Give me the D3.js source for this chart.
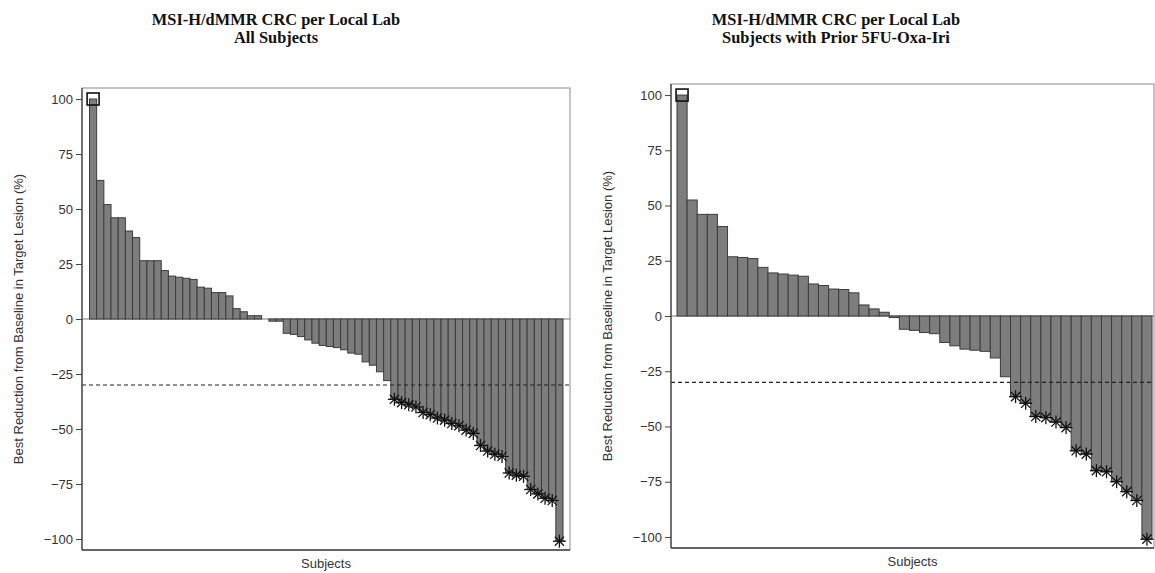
<!DOCTYPE html>
<html>
<head>
<meta charset="utf-8">
<script src="https://cdn.jsdelivr.net/npm/d3@7"></script>
<style>
  html, body { margin: 0; padding: 0; background: #fff; }
  svg { display: block; }
</style>
</head>
<body>
<svg id="chart" width="1155" height="573"></svg>
<script>
// ---------------- data ----------------
const yTicks = [100, 75, 50, 25, 0, -25, -50, -75, -100];
const threshold = -30;

const leftTitle = ["MSI-H/dMMR CRC per Local Lab", "All Subjects"];
const leftValues = [
  100, 63, 52, 46, 46, 40, 37, 26.5, 26.5, 26.5,
  22, 19.5, 19, 18.5, 18, 14.5, 14, 12, 12, 10.5,
  4.7, 3.3, 1.5, 1.5, 0, -1, -1, -6.5, -7, -8,
  -9.5, -11, -12, -12.5, -13, -14, -15.5, -16, -19.5, -21,
  -24, -28, -36.5, -38, -39, -40, -42.5, -43.5, -45, -46,
  -47.5, -48.5, -50.5, -52, -57.5, -60, -61.5, -62.5, -70, -71,
  -71.5, -77.5, -79.5, -81.5, -82.5, -101
];
const leftSquares = [0];
const leftAsterisks = d3.range(42, 66);

const rightTitle = ["MSI-H/dMMR CRC per Local Lab", "Subjects with Prior 5FU-Oxa-Iri"];
const rightValues = [
  100, 52.5, 46, 46, 40.5, 26.8, 26.5, 26, 22, 19.5,
  19, 18.5, 18, 14.5, 13.8, 12.2, 12, 10.5, 5, 3.2,
  1.7, -0.7, -6, -6.5, -7.5, -8, -12, -13.5, -15, -15.5,
  -16, -19, -27.5, -36.5, -39.5, -45.5, -46, -48, -50.5, -61,
  -62.5, -70, -70.5, -75, -79.5, -83.5, -101
];
const rightSquares = [0];
const rightAsterisks = d3.range(33, 47);

const yTitle = "Best Reduction from Baseline in Target Lesion (%)";
const xTitle = "Subjects";

// ---------------- drawing ----------------
const svg = d3.select("#chart");
const sans = "'Liberation Sans', Arial, sans-serif";

function panel(cfg) {
  const g = svg.append("g");
  const y = d3.scaleLinear().domain([-105, 105]).range([cfg.bottom, cfg.top]);
  const x = d3.scaleBand().domain(d3.range(cfg.values.length))
    .range([cfg.barStart, cfg.barEnd]).padding(0);

  // titles
  cfg.title.forEach((t, i) => {
    g.append("text")
      .attr("x", cfg.titleX).attr("y", 25 + i * 18)
      .attr("text-anchor", "middle")
      .attr("font-family", "'Liberation Serif', 'Times New Roman', serif")
      .attr("font-weight", "bold").attr("font-size", 16.4)
      .attr("fill", "#111")
      .text(t);
  });

  // frame
  g.append("rect")
    .attr("x", cfg.left).attr("y", cfg.top)
    .attr("width", cfg.right - cfg.left).attr("height", cfg.bottom - cfg.top)
    .attr("fill", "none").attr("stroke", "#8a8a8a").attr("stroke-width", 1);

  // zero line
  g.append("line")
    .attr("x1", cfg.left).attr("x2", cfg.right)
    .attr("y1", y(0)).attr("y2", y(0))
    .attr("stroke", "#777").attr("stroke-width", 1);

  // bars
  g.selectAll("rect.bar").data(cfg.values).enter().append("rect")
    .attr("class", "bar")
    .attr("x", (d, i) => x(i))
    .attr("width", x.bandwidth())
    .attr("y", d => y(Math.max(0, d)))
    .attr("height", d => Math.abs(y(d) - y(0)))
    .attr("fill", "#7d7d7d")
    .attr("stroke", "#3c3c3c")
    .attr("stroke-width", 1);

  // threshold dashed line
  g.append("line")
    .attr("x1", cfg.left).attr("x2", cfg.right)
    .attr("y1", y(threshold)).attr("y2", y(threshold))
    .attr("stroke", "#222").attr("stroke-width", 1.2)
    .attr("stroke-dasharray", "4,3");

  // axes (left and bottom drawn darker)
  const axis = d3.axisLeft(y).tickValues(yTicks).tickSize(6).tickPadding(3)
    .tickFormat(d3.format("d"));
  const ag = g.append("g").attr("transform", `translate(${cfg.left},0)`).call(axis);
  ag.select(".domain").attr("stroke", "#444").attr("stroke-width", 1.3)
    .attr("d", `M0,${cfg.top}V${cfg.bottom}`);
  ag.selectAll(".tick line").attr("stroke", "#444");
  ag.selectAll(".tick text")
    .attr("font-family", sans)
    .attr("font-size", 13).attr("fill", "#333");

  g.append("line")
    .attr("x1", cfg.left).attr("x2", cfg.right)
    .attr("y1", cfg.bottom).attr("y2", cfg.bottom)
    .attr("stroke", "#444").attr("stroke-width", 1.3);

  // y title
  g.append("text")
    .attr("transform", `translate(${cfg.yTitleX},${(cfg.top + cfg.bottom) / 2}) rotate(-90)`)
    .attr("text-anchor", "middle")
    .attr("font-family", sans)
    .attr("font-size", 13).attr("fill", "#333")
    .text(yTitle);

  // x title
  g.append("text")
    .attr("x", (cfg.left + cfg.right) / 2).attr("y", cfg.bottom + 18)
    .attr("text-anchor", "middle")
    .attr("font-family", sans)
    .attr("font-size", 13).attr("fill", "#333")
    .text(xTitle);

  // square markers
  cfg.squares.forEach(i => {
    const cx = x(i) + x.bandwidth() / 2, cy = y(cfg.values[i]);
    g.append("rect")
      .attr("x", cx - 6).attr("y", cy - 6)
      .attr("width", 12).attr("height", 12)
      .attr("fill", "none").attr("stroke", "#111").attr("stroke-width", 1.6);
  });

  // asterisk markers
  const r = 6.5;
  cfg.asterisks.forEach(i => {
    const cx = x(i) + x.bandwidth() / 2, cy = y(cfg.values[i]);
    const ast = g.append("g").attr("transform", `translate(${cx},${cy})`);
    [0, 45, 90, 135].forEach(a => {
      const rad = a * Math.PI / 180;
      ast.append("line")
        .attr("x1", -r * Math.cos(rad)).attr("y1", -r * Math.sin(rad))
        .attr("x2", r * Math.cos(rad)).attr("y2", r * Math.sin(rad))
        .attr("stroke", "#111").attr("stroke-width", 1.3);
    });
  });
}

panel({
  title: leftTitle, titleX: 276,
  values: leftValues, squares: leftSquares, asterisks: leftAsterisks,
  left: 82, right: 570, top: 88, bottom: 550,
  barStart: 89.5, barEnd: 563,
  yTitleX: 23
});

panel({
  title: rightTitle, titleX: 836,
  values: rightValues, squares: rightSquares, asterisks: rightAsterisks,
  left: 671, right: 1154, top: 84, bottom: 548,
  barStart: 677, barEnd: 1152,
  yTitleX: 612
});
</script>
</body>
</html>
